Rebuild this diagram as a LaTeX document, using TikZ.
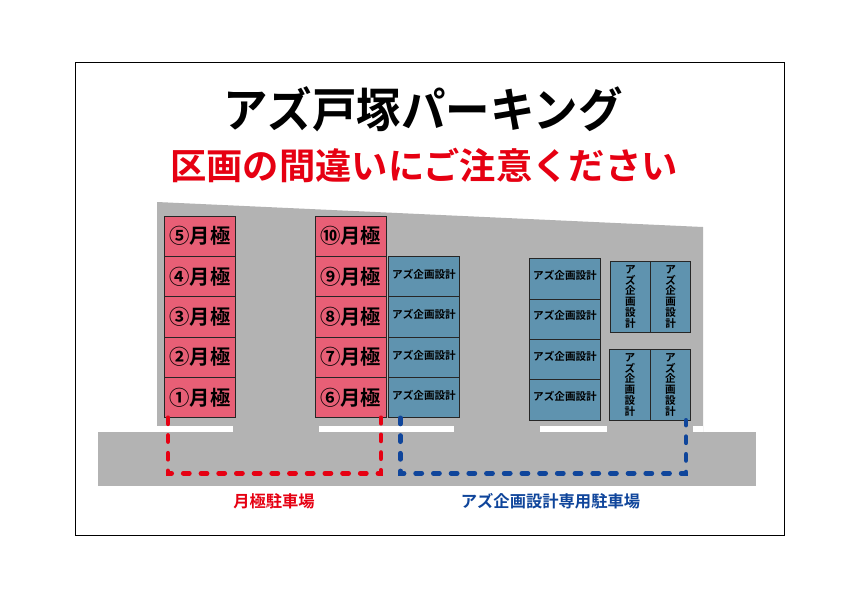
\documentclass[tikz,border=0pt]{standalone}
\usepackage{fontspec}
\setmainfont{Noto Sans CJK JP}[BoldFont={Noto Sans CJK JP Bold}]
\usetikzlibrary{calc}
\definecolor{lotgray}{HTML}{B3B3B3}
\definecolor{cellred}{HTML}{E85F76}
\definecolor{cellblue}{HTML}{5F93AF}
\definecolor{sigred}{HTML}{E60012}
\definecolor{sigblue}{HTML}{0F459B}
\newcommand\rtxt[2]{\raisebox{#1}[0pt][0pt]{#2}}
\tikzset{
 cellbase/.style={draw=black!85,line width=1pt,inner sep=0pt,outer sep=0pt,font=\bfseries,text=black},
 redcell/.style={cellbase,fill=cellred,minimum width=71pt,minimum height=40.4pt,font=\fontsize{20.3}{20.3}\selectfont\bfseries},
 bluecell/.style={cellbase,fill=cellblue,minimum width=71pt,minimum height=40.4pt,font=\fontsize{10.6}{10.6}\selectfont\bfseries},
 vcell/.style={cellbase,fill=cellblue,minimum width=40.3pt,minimum height=71.2pt,align=center,font=\fontsize{10.6}{10.8}\selectfont\bfseries},
 reddash/.style={draw=sigred,line width=4.8pt,line cap=round,dash pattern=on 6pt off 11.7pt},
 bluedash/.style={draw=sigblue,line width=4.8pt,line cap=round,dash pattern=on 6pt off 11.7pt},
 lbl/.style={inner sep=0pt,font=\fontsize{16.3}{16.3}\selectfont\bfseries},
}
\begin{document}
\begin{tikzpicture}[x=1pt,y=-1pt]
\useasboundingbox (0,0) rectangle (842,595);
\fill[white] (0,0) rectangle (842,595);
\draw[black,line width=1pt] (75.5,62.5) rectangle (784,535);
% lot
\fill[lotgray] (157,202) -- (703,227) -- (703,432) -- (157,432) -- cycle;
\fill[white] (157,426) rectangle (233,432);
\fill[white] (319,426) rectangle (454,432);
\fill[white] (540,426) rectangle (607,432);
\fill[white] (693,426) rectangle (703,432);
\fill[lotgray] (98,432) rectangle (756,486);
% titles
\node[inner sep=0pt,font=\fontsize{44.5}{44.5}\selectfont\bfseries] (title) at (423,109.5) {\scalebox{1}[1.06]{アズ戸塚パーキング}};
\node[inner sep=0pt,text=sigred,font=\fontsize{36.3}{36.3}\selectfont\bfseries] (sub) at (424,165.5) {区画の間違いにご注意ください};
% monthly
\foreach \n/\c/\r in {5/⑤/0,4/④/1,3/③/2,2/②/3,1/①/4}
  \node[redcell] (m\n) at (200,{236.2+40.35*\r}) {\rtxt{-7.5pt}{\c 月極}};
\foreach \n/\c/\r in {10/⑩/0,9/⑨/1,8/⑧/2,7/⑦/3,6/⑥/4}
  \node[redcell] (m\n) at (350.5,{236.2+40.35*\r}) {\rtxt{-7.5pt}{\c 月極}};
% company, first column
\foreach \r in {0,1,2,3}
  \node[bluecell] (a\r) at (424,{276.5+40.4*\r}) {\rtxt{-2pt}{アズ企画設計}};
% company, second column
\foreach \r in {0,1,2,3}
  \node[bluecell] (b\r) at (565,{279+40.35*\r}) {\rtxt{-0.5pt}{アズ企画設計}};
% company, vertical blocks
\node[vcell] (c1) at (630.4,296.7) {ア\\ズ\\企\\画\\設\\計};
\node[vcell] (c2) at (670.6,296.7) {ア\\ズ\\企\\画\\設\\計};
\node[vcell] (d1) at (630,384.8) {ア\\ズ\\企\\画\\設\\計};
\node[vcell] (d2) at (670.3,384.8) {ア\\ズ\\企\\画\\設\\計};
% connectors
\coordinate (rs) at (168,0);
\coordinate (re) at (381,0);
\coordinate (bs) at (400.3,0);
\coordinate (be) at (686,0);
\coordinate (low) at (0,473.3);
\draw[reddash] (rs |- m1.south) -- (rs |- low) -- (re |- low) -- (re |- m6.south);
\draw[bluedash] (bs |- a3.south) -- (bs |- low) -- (be |- low) -- (be |- d2.south);
% captions
\node[lbl,text=sigred] (l1) at (274,501) {月極駐車場};
\node[lbl,text=sigblue] (l2) at (550.5,501) {アズ企画設計専用駐車場};
\end{tikzpicture}
\end{document}
